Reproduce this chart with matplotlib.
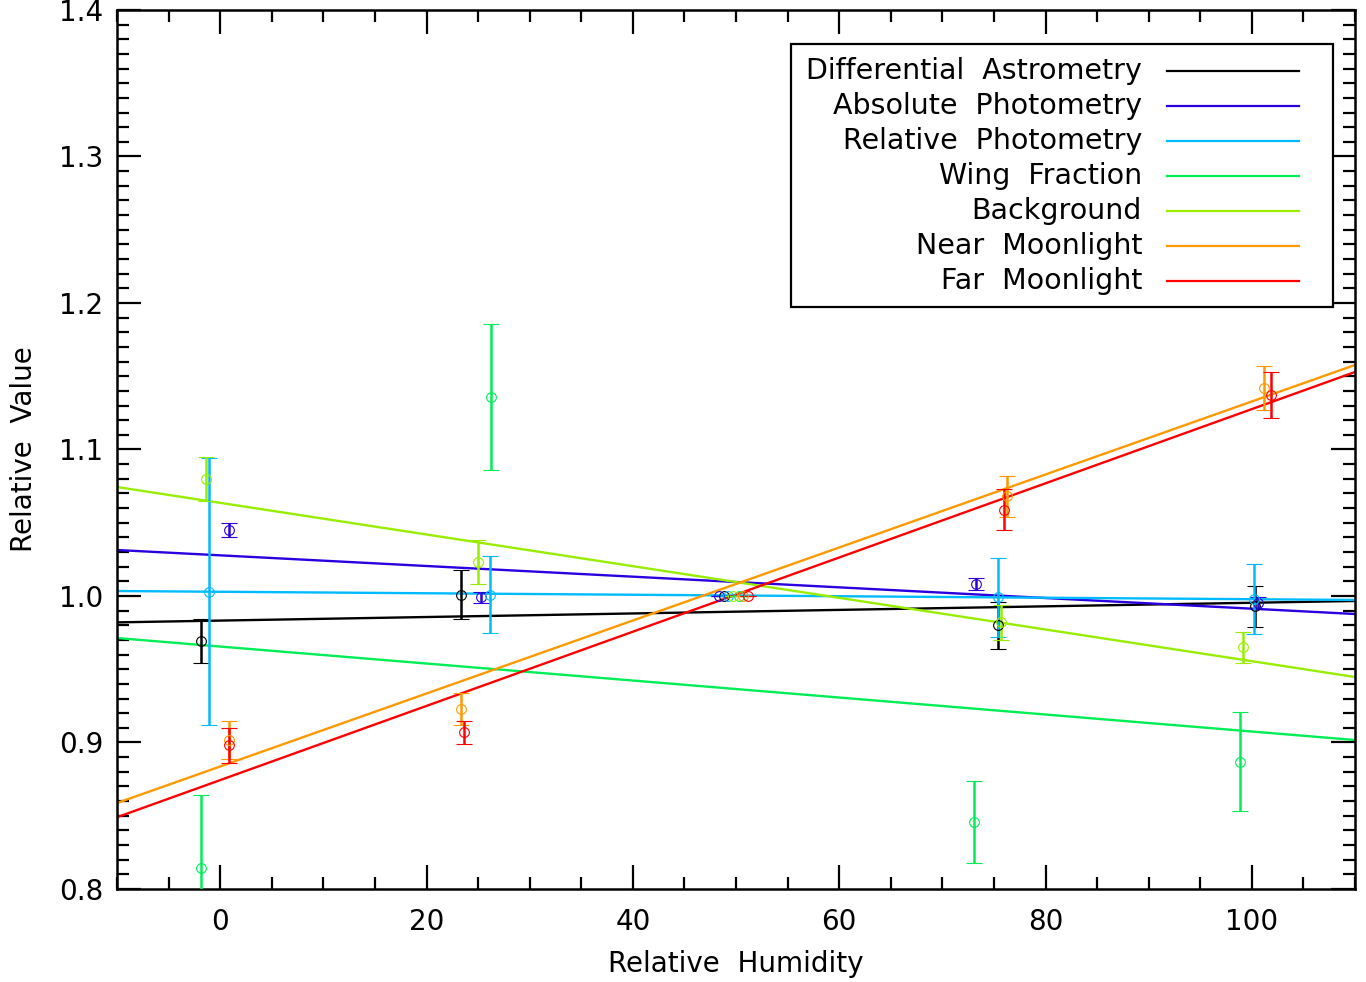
import numpy as np
import matplotlib
matplotlib.use('Agg')
import matplotlib.pyplot as plt
from matplotlib.ticker import MultipleLocator
from matplotlib.patches import Rectangle

# series names and colours
names = ['Differential  Astrometry', 'Absolute  Photometry', 'Relative  Photometry',
         'Wing  Fraction', 'Background', 'Near  Moonlight', 'Far  Moonlight']
colors = ['#000000', '#2a00e0', '#00bbff', '#00ee55', '#99ee00', '#ff9900', '#ff0000']

# humidity of each measurement (slightly offset per series)
hum_astro = [-1.9, 23.3, 48.8, 75.4, 100.3]
hum_absph = [0.9, 25.3, 48.4, 73.3, 100.6]
hum_relph = [-1.1, 26.2, 49.2, 75.4, 100.2]
hum_wing = [-1.9, 26.3, 50.3, 73.1, 98.9]
hum_bkg = [-1.4, 25.0, 49.7, 75.7, 99.1]
hum_near = [0.9, 23.3, 50.7, 76.3, 101.2]
hum_far = [0.9, 23.6, 51.2, 76.0, 101.9]

val_astro = [0.969, 1.001, 1.000, 0.980, 0.993]
val_absph = [1.045, 0.999, 1.000, 1.008, 0.995]
val_relph = [1.003, 1.001, 1.000, 0.999, 0.998]
val_wing = [0.814, 1.136, 1.000, 0.846, 0.887]
val_bkg = [1.080, 1.023, 1.000, 0.982, 0.965]
val_near = [0.902, 0.923, 1.000, 1.068, 1.142]
val_far = [0.898, 0.907, 1.000, 1.059, 1.137]

err_astro = [0.015, 0.017, 0.0, 0.016, 0.014]
err_absph = [0.0045, 0.004, 0.0, 0.004, 0.004]
err_relph = [0.091, 0.026, 0.0, 0.027, 0.024]
err_wing = [0.050, 0.050, 0.0, 0.028, 0.034]
err_bkg = [0.015, 0.015, 0.0, 0.012, 0.0106]
err_near = [0.013, 0.011, 0.0, 0.014, 0.015]
err_far = [0.012, 0.008, 0.0, 0.014, 0.0157]

# linear fit values at the two ends of the humidity range
fit_x = [-10, 110]
fit_astro = [0.982, 0.9966]
fit_absph = [1.0314, 0.9877]
fit_relph = [1.0034, 0.9973]
fit_wing = [0.9713, 0.9017]
fit_bkg = [1.0744, 0.9447]
fit_near = [0.8587, 1.1577]
fit_far = [0.849, 1.1529]

hums = [hum_astro, hum_absph, hum_relph, hum_wing, hum_bkg, hum_near, hum_far]
vals = [val_astro, val_absph, val_relph, val_wing, val_bkg, val_near, val_far]
errs = [err_astro, err_absph, err_relph, err_wing, err_bkg, err_near, err_far]
fits = [fit_astro, fit_absph, fit_relph, fit_wing, fit_bkg, fit_near, fit_far]

plt.rcParams['font.family'] = ['DejaVu Sans']
W, H = 1366, 982
fig = plt.figure(figsize=(W/100, H/100), dpi=100)
ax = fig.add_axes([117/W, 1-889/H, (1355-117)/W, (889-10)/H])

for i in range(len(names)):
    ax.plot(fit_x, fits[i], color=colors[i], lw=1.7, zorder=2)
    ax.errorbar(hums[i], vals[i], yerr=errs[i], fmt='o', mfc='none', mec=colors[i],
                ms=7, mew=0.8, ecolor=colors[i], elinewidth=1.8, capsize=5.5,
                capthick=1.8, zorder=3)

ax.set_xlim(-10, 110)
ax.set_ylim(0.8, 1.4)
ax.xaxis.set_major_locator(MultipleLocator(20))
ax.xaxis.set_minor_locator(MultipleLocator(5))
ax.yaxis.set_major_locator(MultipleLocator(0.1))
ax.yaxis.set_minor_locator(MultipleLocator(0.01))
ax.tick_params(which='both', direction='in', top=True, right=True, width=1.6, labelsize=20)
ax.tick_params(which='major', length=17)
ax.tick_params(axis='x', which='major', pad=14)
ax.tick_params(axis='y', which='major', pad=10)
ax.tick_params(which='minor', length=8.5)
for s in ax.spines.values():
    s.set_linewidth(1.8)

ax.set_xlabel('Relative  Humidity', fontsize=20, labelpad=10)
ax.set_ylabel('Relative  Value', fontsize=20, labelpad=15)

# hand-made legend box, text right-aligned with line sample on the right
tf = fig.transFigure
fig.patches.append(Rectangle((791/W, 1-307/H), (1333-791)/W, (307-44)/H, transform=tf,
                             fill=True, facecolor='white', edgecolor='black', lw=1.6, zorder=5))
for i in range(len(names)):
    yy = 1 - (71 + 35*i)/H
    fig.text(1142/W, yy, names[i], ha='right', va='center', fontsize=20.5, zorder=6)
    fig.add_artist(plt.Line2D([1167/W, 1299/W], [yy, yy], transform=tf,
                              color=colors[i], lw=1.6, zorder=6))

fig.savefig('out.png', dpi=100)
